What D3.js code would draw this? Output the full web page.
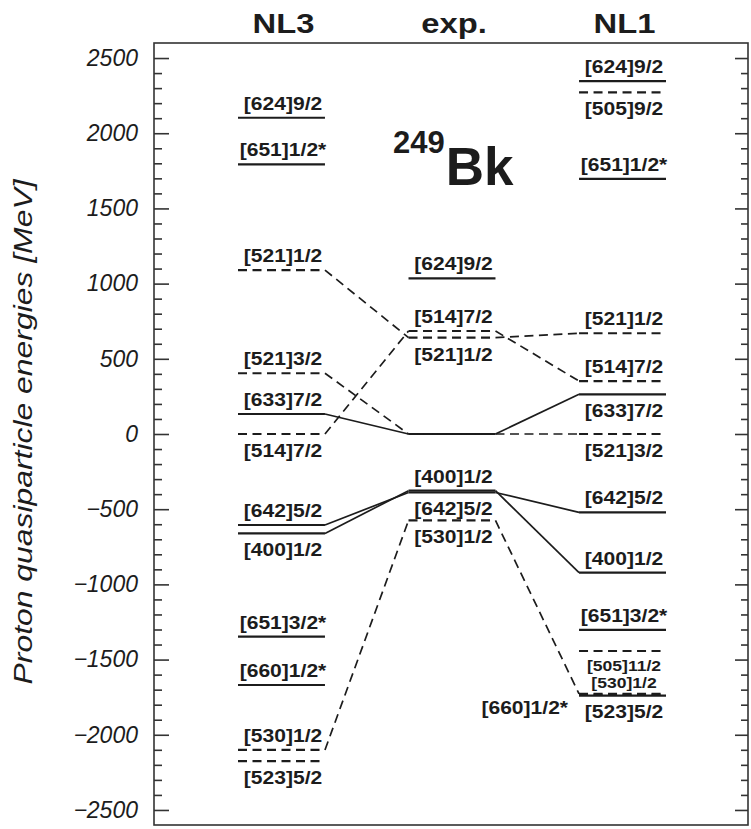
<!DOCTYPE html>
<html>
<head>
<meta charset="utf-8">
<script src="https://cdn.jsdelivr.net/npm/d3@7"></script>
<style>
  html, body { margin: 0; padding: 0; background: #fff; }
  svg { display: block; font-family: "Liberation Sans", Arial, Helvetica, sans-serif; }
</style>
</head>
<body>
<svg id="chart" width="751" height="829"></svg>
<script>
// Proton quasiparticle levels of 249Bk: NL3 calculation, experiment, NL1 calculation
const columns = ["NL3", "exp.", "NL1"];

const nl3Orbitals = ["[624]9/2", "[651]1/2*", "[521]1/2", "[521]3/2", "[633]7/2", "[514]7/2",
                     "[642]5/2", "[400]1/2", "[651]3/2*", "[660]1/2*", "[530]1/2", "[523]5/2"];
const nl3Energies = [2103, 1793, 1090, 404, 133, 0, -605, -661, -1348, -1669, -2101, -2175];

const expOrbitals = ["[624]9/2", "[514]7/2", "[521]1/2", "[633]7/2", "[521]3/2",
                     "[400]1/2", "[642]5/2", "[530]1/2"];
const expEnergies = [1035, 685, 641, 0, 0, -377, -389, -575];

const nl1Orbitals = ["[624]9/2", "[505]9/2", "[651]1/2*", "[521]1/2", "[514]7/2", "[633]7/2",
                     "[521]3/2", "[642]5/2", "[400]1/2", "[651]3/2*", "[505]11/2", "[530]1/2",
                     "[660]1/2*", "[523]5/2"];
const nl1Energies = [2347, 2272, 1696, 670, 352, 264, 0, -521, -922, -1303, -1443, -1728, -1740, -1733];

// orbitals followed from one column to the next
const linkedOrbitals = ["[521]1/2", "[514]7/2", "[521]3/2", "[633]7/2", "[642]5/2", "[400]1/2", "[530]1/2"];

const yTicks = d3.range(-2500, 2501, 500);
const yMinorTicks = d3.range(-2500, 2501, 100);

// label placement relative to each level line
const labelBelow = {
  "NL3": ["[514]7/2", "[400]1/2", "[523]5/2"],
  "exp.": ["[521]1/2", "[642]5/2", "[530]1/2"],
  "NL1": ["[505]9/2", "[633]7/2", "[521]3/2", "[505]11/2", "[523]5/2"]
};
const labelLeft = { "NL1": ["[660]1/2*"] };
const labelHidden = { "exp.": ["[633]7/2", "[521]3/2"] };
const labelSmall = { "NL1": ["[505]11/2", "[530]1/2"] };

const levelSets = {
  "NL3": nl3Orbitals.map((o, i) => ({ orbital: o, energy: nl3Energies[i] })),
  "exp.": expOrbitals.map((o, i) => ({ orbital: o, energy: expEnergies[i] })),
  "NL1": nl1Orbitals.map((o, i) => ({ orbital: o, energy: nl1Energies[i] }))
};

// odd N (e.g. [5xx]) means negative parity, drawn dashed
const negParity = o => (+o[1]) % 2 === 1;

const svg = d3.select("#chart");
const frame = { left: 154, right: 748, top: 43, bottom: 825 };
const ink = "#1c1c1c";
const stretch = 1.17;

const y = d3.scaleLinear().domain([-2600, 2600]).range([frame.bottom, frame.top]);
const x = d3.scaleBand().domain(columns).range([238, 666]).paddingInner(0.49).paddingOuter(0);

// frame
svg.append("rect")
  .attr("x", frame.left).attr("y", frame.top)
  .attr("width", frame.right - frame.left).attr("height", frame.bottom - frame.top)
  .attr("fill", "none").attr("stroke", "#333").attr("stroke-width", 1.6);

// inward ticks on both sides
function tickAxis(gen, xpos, values, size) {
  const g = svg.append("g").attr("transform", `translate(${xpos},0)`)
    .call(gen(y).tickValues(values).tickSize(size).tickFormat(""));
  g.select(".domain").remove();
  g.selectAll("line").attr("stroke", "#333").attr("stroke-width", 1.6);
}
tickAxis(d3.axisRight, frame.left, yMinorTicks.filter(v => v % 500 !== 0), 8);
tickAxis(d3.axisRight, frame.left, yTicks, 15);
tickAxis(d3.axisLeft, frame.right, yMinorTicks.filter(v => v % 500 !== 0), 7);
tickAxis(d3.axisLeft, frame.right, yTicks, 13);

// tick labels
const yLab = svg.append("g").attr("transform", `translate(${frame.left},0)`)
  .call(d3.axisLeft(y).tickValues(yTicks).tickSize(0).tickPadding(16).tickFormat(d3.format("d")));
yLab.select(".domain").remove();
yLab.selectAll("text")
  .attr("font-size", 23).attr("font-style", "italic")
  .attr("font-family", "'Liberation Sans', Arial, sans-serif")
  .attr("fill", ink);

// y title
svg.append("text")
  .attr("transform", `translate(32,${y(0) - 2}) rotate(-90)`)
  .attr("text-anchor", "middle")
  .attr("font-size", 26).attr("font-style", "italic")
  .attr("textLength", 505).attr("lengthAdjust", "spacingAndGlyphs")
  .attr("fill", ink)
  .text("Proton quasiparticle energies [MeV]");

// column headers
columns.forEach(c => {
  svg.append("text")
    .attr("transform", `translate(${x(c) + x.bandwidth() / 2 + 2},33) scale(${stretch},1)`)
    .attr("text-anchor", "middle").attr("font-size", 28).attr("font-weight", "bold")
    .attr("fill", ink).text(c);
});

// nucleus label
const nuc = svg.append("text").attr("x", 393).attr("y", 185).attr("fill", ink).attr("font-weight", "bold");
nuc.append("tspan").attr("font-size", 31).attr("dy", -32).text("249");
nuc.append("tspan").attr("font-size", 53).attr("dy", 32).attr("dx", 1).text("Bk");

// connectors between columns
const linkLayer = svg.append("g");
linkedOrbitals.forEach(o => {
  for (let i = 0; i < columns.length - 1; i++) {
    const a = levelSets[columns[i]].find(d => d.orbital === o);
    const b = levelSets[columns[i + 1]].find(d => d.orbital === o);
    linkLayer.append("line")
      .attr("x1", x(columns[i]) + x.bandwidth()).attr("y1", y(a.energy))
      .attr("x2", x(columns[i + 1])).attr("y2", y(b.energy))
      .attr("stroke", ink).attr("stroke-width", 1.7)
      .attr("stroke-dasharray", negParity(o) ? "9,5.5" : null);
  }
});

// levels and their labels
columns.forEach(c => {
  const g = svg.append("g");
  const levels = levelSets[c].slice().sort((a, b) => negParity(a.orbital) - negParity(b.orbital));
  g.selectAll("line").data(levels).join("line")
    .attr("x1", x(c)).attr("x2", x(c) + x.bandwidth())
    .attr("y1", d => y(d.energy)).attr("y2", d => y(d.energy))
    .attr("stroke", ink).attr("stroke-width", 2.2)
    .attr("stroke-dasharray", d => negParity(d.orbital) ? "9,5.5" : null);

  levelSets[c].forEach(d => {
    if ((labelHidden[c] || []).includes(d.orbital)) return;
    const small = (labelSmall[c] || []).includes(d.orbital);
    const below = (labelBelow[c] || []).includes(d.orbital);
    const left = (labelLeft[c] || []).includes(d.orbital);
    let tx = x(c) + x.bandwidth() / 2 + 1.5;
    let ty = y(d.energy) + (below ? (small ? 20 : 23) : (small ? -5.5 : -8));
    let anchor = "middle";
    if (left) { tx = x(c) - 11; ty = y(d.energy) + 18; anchor = "end"; }
    g.append("text")
      .attr("transform", `translate(${tx},${ty}) scale(${stretch},1)`)
      .attr("text-anchor", anchor)
      .attr("font-size", small ? 15 : 18).attr("font-weight", "bold")
      .attr("fill", ink)
      .text(d.orbital);
  });
});
</script>
</body>
</html>
